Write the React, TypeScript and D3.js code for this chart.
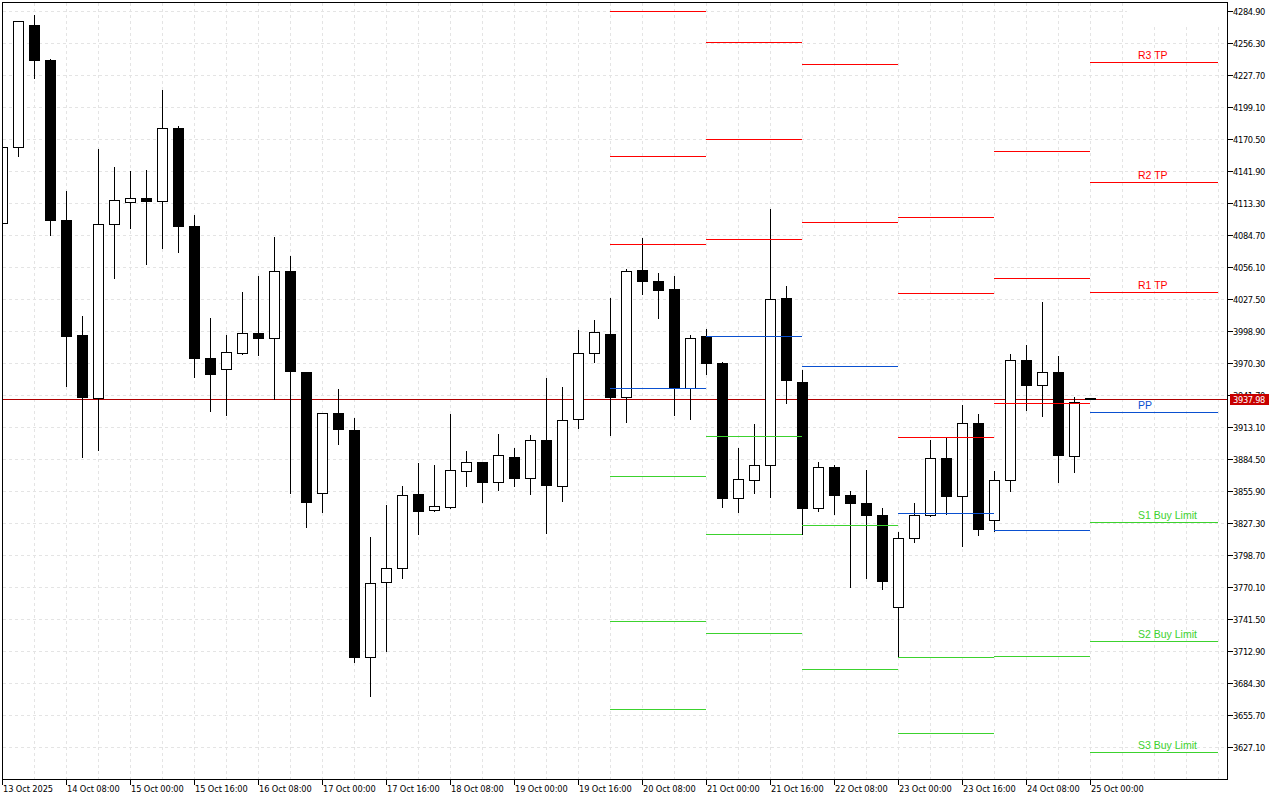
import * as d3 from "d3";

const WIDTH = 1280;
const HEIGHT = 800;
const PLOT = { left: 2.5, right: 1227.5, top: 2.5, bottom: 779.5 };

// four-hour bars
const opens = [
  4095.4, 4163.4, 4272.4, 4241.1, 4098.1, 3995.3, 3939.0, 4094.5, 4114.2, 4117.8,
  4115.1, 4180.3, 4092.8, 3974.8, 3964.9, 3979.2, 3997.1, 3992.6, 4052.5, 3962.3,
  3854.1, 3925.6, 3910.4, 3707.5, 3774.6, 3787.1, 3853.2, 3838.9, 3841.6, 3873.8,
  3881.8, 3863.9, 3886.3, 3867.5, 3901.5, 3860.4, 3920.3, 3979.2, 3996.2, 3939.9,
  4053.4, 4043.6, 4036.4, 3948.0, 3994.4, 3970.3, 3849.6, 3865.7, 3879.1, 4028.4,
  3953.3, 3840.7, 3877.4, 3852.3, 3845.2, 3834.5, 3752.2, 3813.9, 3834.5, 3885.4,
  3851.4, 3916.7, 3830.0, 3865.7, 3973.0, 3950.6, 3962.3, 3887.2, 3939.0,
];
const highs = [
  4165.1, 4276.9, 4282.2, 4242.9, 4124.9, 4013.2, 4162.5, 4146.4, 4142.8, 4143.7,
  4215.2, 4183.0, 4103.5, 4011.4, 3996.2, 4034.7, 4049.0, 4083.8, 4066.8, 3962.3,
  3925.6, 3948.0, 3922.0, 3815.7, 3844.3, 3861.3, 3881.8, 3880.0, 3925.6, 3892.5,
  3881.8, 3907.7, 3895.2, 3906.8, 3957.8, 3949.8, 4000.7, 4009.6, 4029.3, 4055.2,
  4082.9, 4051.6, 4049.0, 3996.2, 4001.6, 3972.1, 3895.2, 3916.7, 4108.8, 4040.0,
  3964.9, 3882.7, 3880.0, 3856.8, 3875.6, 3841.6, 3820.2, 3846.1, 3902.4, 3904.2,
  3933.7, 3925.6, 3874.7, 3979.2, 3987.3, 4025.7, 3977.5, 3940.8, 3939.0,
];
const lows = [
  4093.6, 4155.3, 4225.0, 4084.7, 3949.8, 3886.3, 3892.5, 4046.3, 4091.0, 4058.8,
  4073.1, 4069.5, 3957.8, 3927.4, 3923.8, 3978.4, 3977.5, 3938.1, 3854.1, 3823.7,
  3837.1, 3897.9, 3703.1, 3672.7, 3712.9, 3778.1, 3817.5, 3838.0, 3840.7, 3860.4,
  3846.1, 3856.8, 3860.4, 3853.2, 3818.4, 3847.0, 3912.2, 3971.2, 3906.0, 3917.6,
  4032.0, 4010.5, 3923.8, 3920.3, 3960.5, 3841.6, 3837.1, 3854.1, 3850.5, 3934.6,
  3817.5, 3838.0, 3835.3, 3770.1, 3778.1, 3768.3, 3707.5, 3810.3, 3833.6, 3835.3,
  3806.7, 3816.6, 3820.2, 3855.9, 3928.3, 3922.9, 3863.9, 3872.9, 3938.0,
];
const closes = [
  4163.4, 4276.0, 4241.1, 4098.1, 3994.4, 3939.9, 4094.5, 4116.0, 4117.8, 4115.1,
  4180.3, 4092.8, 3974.8, 3960.5, 3980.1, 3997.1, 3992.6, 4052.5, 3963.2, 3846.1,
  3925.6, 3911.3, 3707.5, 3773.7, 3787.1, 3852.3, 3838.0, 3842.5, 3874.7, 3881.8,
  3863.9, 3888.1, 3867.5, 3901.5, 3861.3, 3919.4, 3979.2, 3998.0, 3939.9, 4052.5,
  4043.6, 4035.5, 3948.0, 3992.6, 3970.3, 3849.6, 3866.6, 3879.1, 4027.5, 3955.1,
  3840.7, 3877.4, 3852.3, 3845.2, 3834.5, 3775.5, 3813.9, 3834.5, 3885.4, 3851.4,
  3916.7, 3821.9, 3865.7, 3973.0, 3950.6, 3962.3, 3888.1, 3935.4, 3938.0,
];

// daily pivot sets: bar where each one starts, then its levels
const pivotBars = [38, 44, 50, 56, 62, 68, 76];
const resistanceLevels = [
  [4284.9, 4155.3, 4076.7],
  [4257.2, 4170.5, 4081.1],
  [4237.5, 4096.3],
  [4100.8, 4032.9, 3904.2],
  [4159.8, 4046.3, 3934.6],
  [4239.3, 4132.1, 4033.8],
];
const pivotPoints = [3948.0, 3994.4, 3967.6, 3836.2, 3821.0, 3926.5];
const supportLevels = [
  [3869.3, 3739.7, 3661.1],
  [3905.1, 3817.5, 3729.0],
  [3825.5, 3696.8],
  [3707.5, 3639.6],
  [3708.4],
  [3828.2, 3721.8, 3622.6],
];
const lastLabels = ["R3 TP", "R2 TP", "R1 TP", "PP", "S1 Buy Limit", "S2 Buy Limit", "S3 Buy Limit"];

const priceTicks = [
  4284.9, 4256.3, 4227.7, 4199.1, 4170.5, 4141.9, 4113.3, 4084.7, 4056.1, 4027.5, 3998.9, 3970.3,
  3941.7, 3913.1, 3884.5, 3855.9, 3827.3, 3798.7, 3770.1, 3741.5, 3712.9, 3684.3, 3655.7, 3627.1,
];
const timeLabels = [
  "13 Oct 2025", "14 Oct 08:00", "15 Oct 00:00", "15 Oct 16:00", "16 Oct 08:00", "17 Oct 00:00",
  "17 Oct 16:00", "18 Oct 08:00", "19 Oct 00:00", "19 Oct 16:00", "20 Oct 08:00", "21 Oct 00:00",
  "21 Oct 16:00", "22 Oct 08:00", "23 Oct 00:00", "23 Oct 16:00", "24 Oct 08:00", "25 Oct 00:00",
];
const lastPrice = 3937.98;

const RED = "#ff0000";
const BLUE = "#0a50d0";
const GREEN = "#3cd22e";
const GRID = "#e4e4e4";
const AXIS_FONT = "'DejaVu Sans Condensed', 'DejaVu Sans', sans-serif";
const LABEL_FONT = "'Liberation Sans', Arial, sans-serif";

const xScale = d3.scaleLinear().domain([0, 76]).range([2.5, 1218.5]);
const yScale = d3.scaleLinear().domain([4284.9, 3627.1]).range([11.5, 747.5]);
// keep every horizontal edge on a whole pixel row, the chart is not antialiased
const yPx = (p: number) => Math.round(yScale(p) - 0.5) + 0.5;

const App = () => {
  const gridBars = d3.range(2, 77, 2);
  const candles = opens.map((open, i) => ({
    i,
    open,
    high: highs[i],
    low: lows[i],
    close: closes[i],
  }));
  const segments = pivotBars.slice(0, -1).map((bar, k) => ({
    x1: xScale(bar) - 0.5,
    x2: xScale(pivotBars[k + 1]) - 0.5,
    levels: [
      ...resistanceLevels[k].map((value) => ({ value, color: RED })),
      { value: pivotPoints[k], color: BLUE },
      ...supportLevels[k].map((value) => ({ value, color: GREEN })),
    ],
  }));
  const lastLevels = segments[5].levels;

  return (
    <svg
      width={WIDTH}
      height={HEIGHT}
      style={{ position: "absolute", left: 0, top: 0, background: "#fff" }}
    >
      <defs>
        <clipPath id="plot-clip">
          <rect x={PLOT.left} y={PLOT.top} width={PLOT.right - PLOT.left} height={PLOT.bottom - PLOT.top} />
        </clipPath>
      </defs>

      {/* grid */}
      <g stroke={GRID} strokeDasharray="3 3" shapeRendering="crispEdges">
        {priceTicks.map((p) => (
          <line key={p} x1={PLOT.left} x2={PLOT.right} y1={yPx(p)} y2={yPx(p)} />
        ))}
        {gridBars.map((b) => (
          <line key={b} x1={xScale(b)} x2={xScale(b)} y1={PLOT.top} y2={PLOT.bottom} />
        ))}
      </g>
      <rect x={1127} y={3} width={100} height={23} fill="#fff" />

      <line
        x1={PLOT.left}
        x2={PLOT.right}
        y1={yPx(lastPrice)}
        y2={yPx(lastPrice)}
        stroke="#b00000"
        shapeRendering="crispEdges"
      />

      {/* candles */}
      <g clipPath="url(#plot-clip)" shapeRendering="crispEdges">
        {candles.map((d) => {
          const up = d.close > d.open;
          const top = yPx(Math.max(d.open, d.close));
          const bottom = yPx(Math.min(d.open, d.close));
          const x = xScale(d.i);
          return (
            <g key={d.i}>
              <line x1={x} x2={x} y1={yPx(d.high)} y2={yPx(d.low)} stroke="#000" />
              <rect
                x={x - 5}
                y={top}
                width={10}
                height={bottom - top}
                fill={up ? "#fff" : "#000"}
                stroke="#000"
              />
            </g>
          );
        })}
      </g>

      {/* pivot levels */}
      <g shapeRendering="crispEdges">
        {segments.map((s, k) =>
          s.levels.map((l) => (
            <line
              key={`${k}-${l.value}`}
              x1={s.x1}
              x2={s.x2}
              y1={yPx(l.value)}
              y2={yPx(l.value)}
              stroke={l.color}
            />
          ))
        )}
      </g>
      <g fontFamily={LABEL_FONT} fontSize={10.5}>
        {lastLabels.map((label, i) => (
          <text key={label} x={1138} y={yPx(lastLevels[i].value) - 3.5} fill={lastLevels[i].color}>
            {label}
          </text>
        ))}
      </g>

      {/* frame and axes */}
      <rect
        x={PLOT.left}
        y={PLOT.top}
        width={PLOT.right - PLOT.left}
        height={PLOT.bottom - PLOT.top}
        fill="none"
        stroke="#000"
        shapeRendering="crispEdges"
      />
      <g fontFamily={AXIS_FONT} fontStretch="condensed" fontSize={9.2} fill="#000">
        {priceTicks.map((p) => (
          <g key={p}>
            <line
              x1={PLOT.right}
              x2={PLOT.right + 5}
              y1={yPx(p)}
              y2={yPx(p)}
              stroke="#000"
              shapeRendering="crispEdges"
            />
            <text x={1233} y={yPx(p) + 3.5} letterSpacing={-0.3}>
              {d3.format(".2f")(p)}
            </text>
          </g>
        ))}
        {timeLabels.map((t, i) => {
          const x = xScale(i * 4);
          return (
            <g key={t}>
              <line
                x1={x}
                x2={x}
                y1={PLOT.bottom}
                y2={PLOT.bottom + 5}
                stroke="#000"
                shapeRendering="crispEdges"
              />
              <text x={x + 0.5} y={791.5} letterSpacing={-0.1}>
                {t}
              </text>
            </g>
          );
        })}
      </g>

      {/* last price tag */}
      <rect x={1230} y={394} width={39} height={11} fill="#c80000" />
      <text
        x={1233}
        y={yPx(lastPrice) + 3.5}
        fontFamily={AXIS_FONT}
        fontStretch="condensed"
        fontSize={9.2}
        letterSpacing={-0.3}
        fill="#fff"
      >
        {d3.format(".2f")(lastPrice)}
      </text>
    </svg>
  );
};

export default App;
